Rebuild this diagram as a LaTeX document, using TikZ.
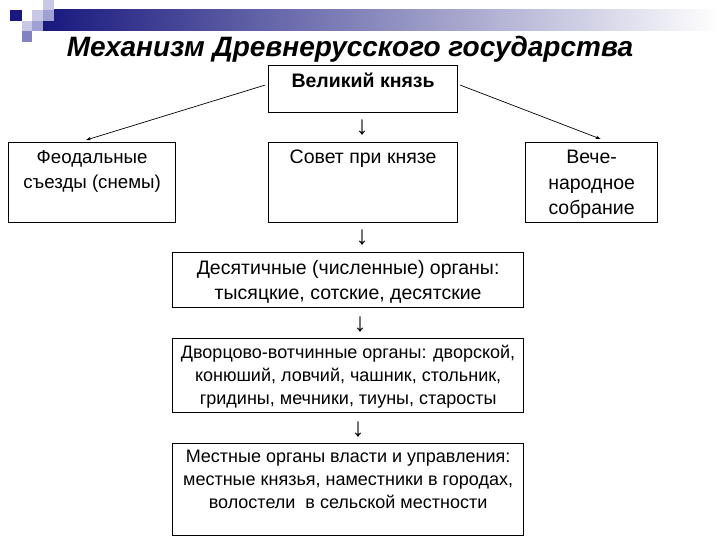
\documentclass[tikz,border=0pt]{standalone}
\usepackage{fontspec}
\setmainfont{Liberation Sans}
\usetikzlibrary{arrows.meta,calc}
\definecolor{navy}{RGB}{24,24,126}
\definecolor{lav1}{RGB}{200,200,230}
\definecolor{lav2}{RGB}{160,160,210}
\definecolor{lav3}{RGB}{130,130,195}
\tikzset{
  box/.style={draw=black, line width=1.2pt, inner sep=0pt, anchor=north west},
  txt/.style={anchor=north, align=center, inner sep=0pt, font=\fontsize{19.5}{25.5}\selectfont},
  txtsm/.style={anchor=north, align=center, inner sep=0pt, font=\fontsize{18}{23}\selectfont},
  arr/.style={font=\fontsize{26}{28}\selectfont, inner sep=0pt},
  con/.style={line width=0.7pt, -{Stealth[length=5pt,width=3.5pt]}}
}
\begin{document}
\begin{tikzpicture}[x=1pt,y=-1pt]
\useasboundingbox (0,0) rectangle (720,540);
% decoration
\shade[left color=navy, right color=white, draw=none] (43,10) rectangle (720,31);
\fill[navy] (10,10) rectangle (21.5,21);
\fill[lav1] (43,0) rectangle (53.5,10);
\fill[lav1] (32,10) rectangle (43,21);
\fill[lav2] (43,10) rectangle (53.5,21);
\fill[lav1] (21.5,21) rectangle (32,31.5);
\fill[lav2] (32,21) rectangle (43,31.5);
\fill[lav3] (21.5,31.5) rectangle (32,42);
% title
\node[inner sep=0pt, font=\fontsize{28}{32}\selectfont\bfseries\itshape] (title) at (350,49) {Механизм Древнерусского государства};
% boxes
\node[box, minimum width=189pt, minimum height=47pt] (vk) at (268,65) {};
\node[txt, font=\fontsize{19.5}{22}\selectfont\bfseries] (vkt) at ($(vk.north)+(0,8)$) {Великий князь};
\node[box, minimum width=167pt, minimum height=80pt] (fs) at (8,142) {};
\node[txt, font=\fontsize{18.7}{25.5}\selectfont] (fst) at ($(fs.north)+(0,8)$) {Феодальные\\съезды (снемы)};
\node[box, minimum width=189pt, minimum height=80pt] (sk) at (268,142) {};
\node[txt] (skt) at ($(sk.north)+(0,8)$) {Совет при князе};
\node[box, minimum width=132pt, minimum height=80pt] (ve) at (525,142) {};
\node[txt] (vet) at ($(ve.north)+(0,8)$) {Вече-\\народное\\собрание};
\node[box, minimum width=351pt, minimum height=55pt] (de) at (172,252) {};
\node[txt] (det) at ($(de.north)+(0,8)$) {Десятичные (численные) органы:\\тысяцкие, сотские, десятские};
\node[box, minimum width=351pt, minimum height=74pt] (dv) at (172,338) {};
\node[txtsm] (dvt) at ($(dv.north)+(0,7)$) {Дворцово-вотчинные органы: дворской,\\конюший, ловчий, чашник, стольник,\\гридины, мечники, тиуны, старосты};
\node[box, minimum width=351pt, minimum height=92pt] (me) at (172,443) {};
\node[txtsm] (met) at ($(me.north)+(0,7)$) {Местные органы власти и управления:\\местные князья, наместники в городах,\\волостели\ \ в сельской местности};
% down arrows (glyphs)
\node[arr] (a1) at (362,128) {↓};
\node[arr] (a2) at (362,238) {↓};
\node[arr] (a3) at (360,325) {↓};
\node[arr] (a4) at (358,430) {↓};
% diagonal connectors
\coordinate (le) at ($(fs.north)+(-6,-2)$);
\coordinate (re) at ($(ve.north)+(9,-3)$);
\draw[con] ($(vk.west)+(-3,-4)$) -- (le);
\draw[con] ($(vk.east)+(2,-4)$) -- (re);
\end{tikzpicture}
\end{document}
